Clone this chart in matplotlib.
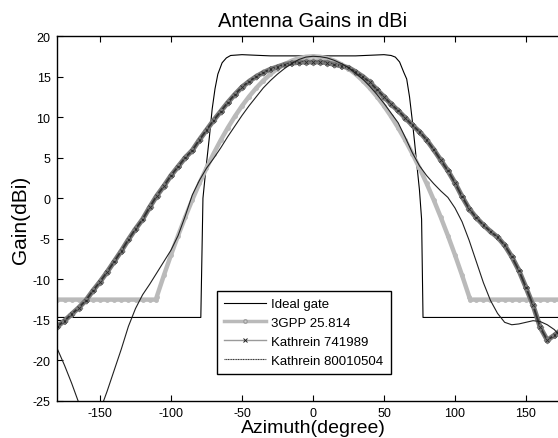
import numpy as np
import matplotlib
matplotlib.use("Agg")
import matplotlib.pyplot as plt
import matplotlib.patheffects as pe
from matplotlib.lines import Line2D

plt.rcParams['font.family'] = ['Liberation Sans', 'DejaVu Sans']
plt.rcParams['axes.unicode_minus'] = False

# azimuth grid (degrees) for the measured / model patterns
az = np.arange(-180, 181, 5)

gate_az = [-180, -79, -77.5, -75.5, -73, -71, -69, -67, -64, -61, -58, -50, -30, 0, 30, 50, 55, 58, 61, 64, 66, 68, 70, 71.5, 73, 75, 76.5, 77.5, 180]
gate_gain = [-14.7, -14.7, 0.0, 3.5, 7.5, 11.0, 13.5, 15.3, 16.7, 17.3, 17.6, 17.7, 17.55, 17.55, 17.55, 17.7, 17.6, 17.4, 16.8, 15.5, 14.7, 12.5, 9.5, 7.0, 4.4, 1.0, -2.6, -14.7, -14.7]

# 3GPP 25.814 pattern
gpp_az = [-180, -175, -170, -165, -160, -155, -150, -145, -140, -135, -130, -125, -120, -115, -110.7,
          -110, -105, -100, -95, -90, -85, -80, -75, -70, -65, -60, -55, -50, -45, -40, -35, -30, -25,
          -20, -15, -10, -5, 0, 5, 10, 15, 20, 25, 30, 35, 40, 45, 50, 55, 60, 65, 70, 75, 80, 85, 90,
          95, 100, 105, 110, 110.7, 115, 120, 125, 130, 135, 140, 145, 150, 155, 160, 165, 170, 175, 180]
gpp_gain = [-12.5] * 15 + [-12.13, -9.5, -6.99, -4.6, -2.34, -0.19, 1.83, 3.72, 5.5, 7.15, 8.68, 10.09,
                          11.38, 12.54, 13.58, 14.5, 15.3, 15.97, 16.52, 16.95, 17.26, 17.44, 17.5,
                          17.44, 17.26, 16.95, 16.52, 15.97, 15.3, 14.5, 13.58, 12.54, 11.38, 10.09,
                          8.68, 7.15, 5.5, 3.72, 1.83, -0.19, -2.34, -4.6, -6.99, -9.5, -12.13] + [-12.5] * 15

# Kathrein 741989 (every 5 degrees, -180..180)
k741_gain = [-15.8, -15.1, -14.3, -13.5, -12.6, -11.4, -10.3, -9.1, -7.8, -6.5, -5.1, -3.8, -2.6,
             -1.1, 0.3, 1.5, 2.8, 3.9, 5.0, 5.9, 7.2, 8.4, 9.6, 10.7, 11.8, 12.8, 13.7, 14.4, 15.0,
             15.5, 15.9, 16.2, 16.5, 16.65, 16.75, 16.8, 16.8, 16.8, 16.7, 16.5, 16.3, 16.1, 15.6,
             15.0, 14.3, 13.4, 12.5, 11.6, 10.8, 9.9, 9.0, 8.2, 7.2, 6.0, 4.7, 3.4, 1.9, 0.2, -1.3,
             -2.4, -3.3, -4.1, -4.8, -5.8, -7.2, -8.9, -11.0, -13.2, -15.9, -17.5, -16.9, -16.2, -15.8]

# Kathrein 80010504 (every 5 degrees, -180..180)
k800_gain = [-18.6, -20.6, -22.8, -25.2, -27.5, -28.8, -26.2, -23.8, -21.2, -18.6, -15.8, -13.6,
             -11.9, -10.6, -9.2, -7.8, -6.4, -4.6, -2.2, 0.4, 2.2, 3.7, 4.9, 6.2, 7.6, 8.9, 10.2,
             11.4, 12.5, 13.6, 14.5, 15.3, 16.0, 16.6, 17.1, 17.4, 17.5, 17.45, 17.3, 17.0, 16.6,
             16.1, 15.4, 14.7, 13.8, 12.8, 11.7, 10.5, 9.3, 7.5, 5.6, 4.0, 2.8, 1.8, 0.9, 0.1, -1.2,
             -2.9, -5.2, -7.8, -10.4, -12.6, -14.2, -15.3, -15.6, -15.5, -15.3, -15.1, -15.2, -15.6,
             -16.2, -17.2, -18.4]

fig = plt.figure(figsize=(5.58, 4.39), dpi=100)
ax = fig.add_axes([0.1029, 0.0843, 0.916, 0.8314])

gpp_col = '#bababa'
ax.plot(gate_az, gate_gain, color='black', lw=0.8)
ax.plot(gpp_az, gpp_gain, color=gpp_col, lw=3.2, marker='o', ms=2.5, mec=gpp_col, mfc=gpp_col)
ax.plot(az, k741_gain, color='#333333', lw=1.4, marker='x', ms=2.6, mew=0.6, mec='#2a2a2a',
        path_effects=[pe.Stroke(linewidth=3.6, foreground='#7a7a7a'), pe.Normal()])
ax.plot(az, k800_gain, color='#202020', lw=0.8)

ax.set_xlim(-180, 180)
ax.set_ylim(-25, 20)
ax.set_xticks([-150, -100, -50, 0, 50, 100, 150])
ax.set_yticks(np.arange(-25, 21, 5))
ax.tick_params(direction='in', top=True, right=True, labelsize=9, length=4, width=0.8)
ax.tick_params(axis='x', pad=4)
ax.tick_params(axis='y', pad=5)
for s in ax.spines.values():
    s.set_linewidth(1.0)

ax.set_title('Antenna Gains in dBi', fontsize=14.5, pad=7)
ax.set_xlabel('Azimuth(degree)', fontsize=14, labelpad=0)
ax.set_ylabel('Gain(dBi)', fontsize=15, labelpad=2)

# legend proxies (as drawn in the legend box of the original)
handles = [
    Line2D([], [], color='black', lw=0.8),
    Line2D([], [], color=gpp_col, lw=2.5, marker='o', ms=2.5, mfc='#d0d0d0', mec='#a0a0a0'),
    Line2D([], [], color='#9a9a9a', lw=1.0, marker='x', ms=3.5, mew=0.7, mec='#202020'),
    Line2D([], [], color='#303030', lw=0.8, ls=(0, (1, 0.5))),
]
labels = ['Ideal gate', '3GPP 25.814', 'Kathrein 741989', 'Kathrein 80010504']
leg = ax.legend(handles, labels, loc='lower left', bbox_to_anchor=(0.3116, 0.074), borderaxespad=0,
                fontsize=9.5, fancybox=False, edgecolor='black', framealpha=1, handlelength=3.2,
                handletextpad=0.4, borderpad=0.55, labelspacing=0.5)
leg.get_frame().set_linewidth(1.0)

fig.savefig('out.png', dpi=100)
